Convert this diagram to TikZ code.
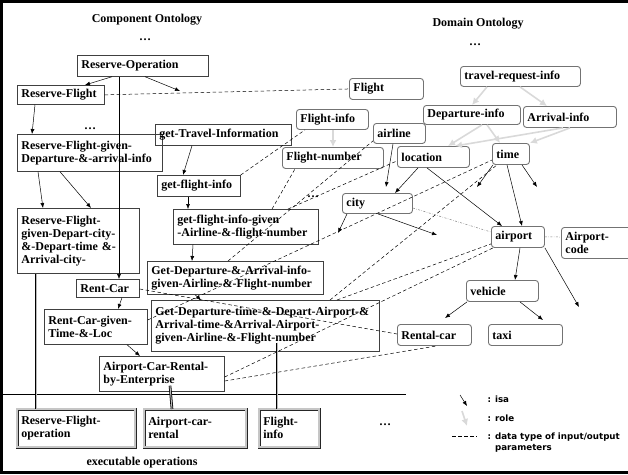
\documentclass[tikz,border=0pt]{standalone}
\usepackage{fontspec}
\setmainfont{Liberation Serif}
\newfontfamily\legendfont{DejaVu Sans}
\usetikzlibrary{arrows.meta}
\exhyphenpenalty=10000
\hyphenpenalty=10000

\begin{document}
\begin{tikzpicture}[x=1pt, y=-1pt,
    every node/.style={font=\fontsize{12}{13}\selectfont\bfseries},
    sz/.style 2 args={text width=#1pt-8pt, minimum height=#2pt},
    comp/.style={draw=black!75, line width=0.7pt, anchor=north west, inner xsep=4pt, inner ysep=2pt, align=left},
    dom/.style={comp, draw=black!55, line width=0.9pt, rounded corners=3pt},
    exe/.style={comp, draw=black!85, line width=0.5pt, double=gray!45, double distance=2pt},
    isa/.style={-{Latex[length=5pt,width=4pt]}, black, line width=0.5pt},
    role/.style={-{Latex[length=7pt,width=7pt]}, gray!30, line width=1.6pt},
    dtype/.style={dash pattern=on 3.5pt off 2.5pt, line width=0.5pt},
    link/.style={dash pattern=on 2pt off 1.5pt on 0.5pt off 1.5pt, gray, line width=0.5pt},
    exec/.style={draw=black, line width=0.8pt, double=gray!55, double distance=1pt},
    legend/.style={anchor=west, font=\legendfont\fontsize{8.7}{11.5}\selectfont\bfseries},
]
    \useasboundingbox (0,0) rectangle (628,474);
    % the frame and the line above the executable operations
    \draw[line width=3pt] (1.5,1.5) rectangle (650,472.5);
    \draw (3,394) -- (406,394);

    % the titles
    \node (comptitle) at (147,20) {Component Ontology};
    \node (domtitle) at (478,24) {Domain Ontology};
    \node (exectitle) at (142,463) {executable operations};
    \node (dots1) at (145,40) {\dots};
    \node (dots2) at (90,129) {\dots};
    \node (dots3) at (475,45) {\dots};
    \node (dots4) at (313,197) {\dots};
    \node (dots5) at (385,425) {\dots};

    % the component ontology
    \node[comp, sz={131}{21}] (resop) at (77,55) {Reserve-Operation};
    \node[comp, sz={87}{19}] (resfl) at (17,85) {Reserve-Flight};
    \node[comp, sz={145}{37}] (resflda) at (17,134) {Reserve-Flight-given-\\Departure-\&-arrival-info};
    \node[comp, sz={136}{21}] (gettravel) at (155,124) {get-Travel-Information};
    \node[comp, sz={122}{65}] (resfldc) at (17,208) {Reserve-Flight-\\given-Depart-city-\\\&-Depart-time \&-\\Arrival-city-};
    \node[comp, sz={83}{21}] (getfl) at (157,175) {get-flight-info};
    \node[comp, sz={145}{35}] (getflaf) at (173,209) {get-flight-info-given\\-Airline-\&-flight-number};
    \node[comp, sz={176}{33}] (getdaa) at (147,261) {Get-Departure-\&-Arrival-info-\\given-Airline-\&-Flight-number};
    \node[comp, sz={63}{18}] (rentcar) at (76,279) {Rent-Car};
    \node[comp, sz={103}{35}] (rentcartl) at (44,309) {Rent-Car-given-\\Time-\&-Loc};
    \node[comp, sz={228}{51}] (getdta) at (151,300) {Get-Departure-time-\&-Depart-Airport-\&\\Arrival-time-\&Arrival-Airport-\\given-Airline-\&-Flight-number};
    \node[comp, sz={125}{35}] (acre) at (99,356) {Airport-Car-Rental-\\by-Enterprise};

    % the executable operations
    \node[exe, sz={118}{38}] (exrf) at (17,409) {Reserve-Flight-\\operation};
    \node[exe, sz={102}{38}] (exacr) at (144,409) {Airport-car-\\rental};
    \node[exe, sz={60}{38}] (exfi) at (259,409) {Flight-\\info};

    % the domain ontology
    \node[dom, sz={74}{21}] (flight) at (349,78) {Flight};
    \node[dom, sz={72}{20}] (flinfo) at (296,109) {Flight-info};
    \node[dom, sz={101}{21}] (flnum) at (282,147) {Flight-number};
    \node[dom, sz={52}{20}] (airline) at (373,123) {airline};
    \node[dom, sz={120}{20}] (trinfo) at (460,66) {travel-request-info};
    \node[dom, sz={97}{19}] (depinfo) at (423,105) {Departure-info};
    \node[dom, sz={93}{21}] (arrinfo) at (523,106) {Arrival-info};
    \node[dom, sz={72}{21}] (location) at (397,146) {location};
    \node[dom, sz={37}{21}] (time) at (492,143) {time};
    \node[dom, sz={70}{20}] (city) at (342,193) {city};
    \node[dom, sz={53}{21}] (airport) at (491,226) {airport};
    \node[dom, sz={71}{31}] (apcode) at (561,227) {Airport-\\code};
    \node[dom, sz={72}{21}] (vehicle) at (466,280) {vehicle};
    \node[dom, sz={74}{21}] (rentalcar) at (397,324) {Rental-car};
    \node[dom, sz={74}{21}] (taxi) at (488,324) {taxi};

    % free ends of some isa arrows
    \coordinate (e1) at (180,91);
    \coordinate (e2) at (386,187);
    \coordinate (e3) at (477,187);
    \coordinate (e4) at (537,187);
    \coordinate (e5) at (338,233);
    \coordinate (e6) at (437,235);
    \coordinate (e7) at (579,307);

    % isa links
    \draw[isa] ([xshift=35pt]resop.south west) -- ([xshift=68pt]resfl.north west);
    \draw[isa] ([xshift=68pt]resop.south west) -- (e1);
    \draw[isa] ([xshift=42pt]resop.south west) -- ([xshift=43pt]rentcar.north west);
    \draw[isa] ([xshift=18pt]resfl.south west) -- ([xshift=15pt]resflda.north west);
    \draw[isa] ([xshift=21pt]resflda.south west) -- ([xshift=26pt]resfldc.north west);
    \draw[isa] ([xshift=43pt]resflda.south west) -- ([xshift=74pt]resfldc.north west);
    \draw[isa] ([xshift=37pt]gettravel.south west) -- ([xshift=26pt]getfl.north west);
    \draw[isa] ([xshift=31pt]getfl.south west) -- ([xshift=15pt]getflaf.north west);
    \draw[isa] ([xshift=20pt]getflaf.south west) -- ([xshift=45pt]getdaa.north west);
    \draw[isa] ([xshift=48pt]getdaa.south west) -- ([xshift=50pt]getdta.north west);
    \draw[isa] ([xshift=46pt]rentcar.south west) -- ([xshift=74pt]rentcartl.north west);
    \draw[isa] ([xshift=83pt]rentcartl.south west) -- ([xshift=41pt]acre.north west);

    \draw[isa] ([xshift=20pt]airline.south west) -- (e2);
    \draw[isa] ([xshift=21pt]location.south west) -- ([xshift=53pt]city.north west);
    \draw[isa] ([xshift=30pt]location.south west) -- ([xshift=11pt]airport.north west);
    \draw[isa] ([xshift=1pt]time.south west) -- (e3);
    \draw[isa] ([xshift=15pt]time.south west) -- ([xshift=31pt]airport.north west);
    \draw[isa] ([xshift=30pt]time.south west) -- (e4);
    \draw[isa] ([xshift=5pt]city.south west) -- (e5);
    \draw[isa] ([xshift=36pt]city.south west) -- (e6);
    \draw[isa] ([xshift=29pt]airport.south west) -- ([xshift=49pt]vehicle.north west);
    \draw[isa] (airport.south east) -- (e7);
    \draw[isa] ([xshift=1pt]vehicle.south west) -- ([xshift=48pt,yshift=6pt]rentalcar.north west);
    \draw[isa] ([xshift=54pt]vehicle.south west) -- ([xshift=55pt,yshift=4pt]taxi.north west);

    % role links
    \draw[role] ([xshift=37pt]flinfo.south west) -- ([xshift=51pt]flnum.north west);
    \draw[role] ([xshift=27pt]trinfo.south west) -- ([xshift=49pt]depinfo.north west);
    \draw[role] ([xshift=60pt]trinfo.south west) -- ([xshift=24pt]arrinfo.north west);
    \draw[role] ([xshift=59pt]depinfo.south west) -- ([xshift=51pt]location.north west);
    \draw[role] ([xshift=64pt]depinfo.south west) -- ([xshift=8pt]time.north west);
    \draw[role] ([xshift=40pt]arrinfo.south west) -- ([xshift=58pt]location.north west);
    \draw[role] ([xshift=47pt]arrinfo.south west) -- (time.north east);

    % data types of the parameters
    \draw[dtype] (resfl.east) -- (flight.west);
    \draw[dtype] (getfl.north east) -- ([xshift=9pt]flinfo.south west);
    \draw[dtype] ([xshift=99pt]getflaf.north west) -- ([xshift=13pt]flnum.south west);
    \draw[dtype] ([xshift=115pt]getflaf.north west) -- ([yshift=7pt]location.south west);
    \draw[dtype] ([xshift=81pt]getdaa.north west) -- ([yshift=3pt]airline.south west);
    \draw[dtype] ([yshift=-11pt]rentcartl.north east) -- ([yshift=-17pt]time.north west);
    \draw[dtype] ([xshift=179pt]getdta.north west) -- ([xshift=5pt]time.south west);
    \draw[dtype] ([xshift=186pt]getdta.north west) -- ([yshift=4pt]airport.south west);
    \draw[dtype] ([yshift=-21pt]acre.north east) -- ([xshift=2pt]airport.south west);
    \draw[dtype] ([yshift=-25pt]acre.north east) -- ([xshift=40pt]rentalcar.south west);
    \draw[dtype] ([yshift=-10pt]rentcar.north east) -- ([yshift=-10pt]rentalcar.north west);
    \draw[link] ([yshift=-15pt]city.north east) -- ([yshift=-6pt]airport.north west);
    \draw[link] (airport.east) -- ([yshift=-10pt]apcode.north west);

    % the operations that are executed
    \draw[exec] ([xshift=19pt]resfldc.south west) -- ([xshift=19pt]exrf.north west);
    \draw[exec] ([xshift=71pt,yshift=6pt]acre.south west) -- ([xshift=28pt]exacr.north west);
    \draw[exec] ([xshift=126pt,yshift=9pt]getdta.south west) -- ([xshift=18pt]exfi.north west);

    % the legend
    \coordinate (lgisa1) at (460,395);
    \coordinate (lgisa2) at (467,406);
    \coordinate (lgrole1) at (462,411);
    \coordinate (lgrole2) at (467,426);
    \coordinate (lgdt1) at (452,436);
    \coordinate (lgdt2) at (477,436);
    \draw[isa] (lgisa1) -- (lgisa2);
    \draw[role] (lgrole1) -- (lgrole2);
    \draw[dtype] (lgdt1) -- (lgdt2);
    \node[legend] (lgisa) at (484,399) {: isa};
    \node[legend] (lgrole) at (484,418) {: role};
    \node[legend, anchor=north west, align=left] (lgdt) at (484,429) {: data type of input/output\\\phantom{: }parameters};
\end{tikzpicture}
\end{document}
